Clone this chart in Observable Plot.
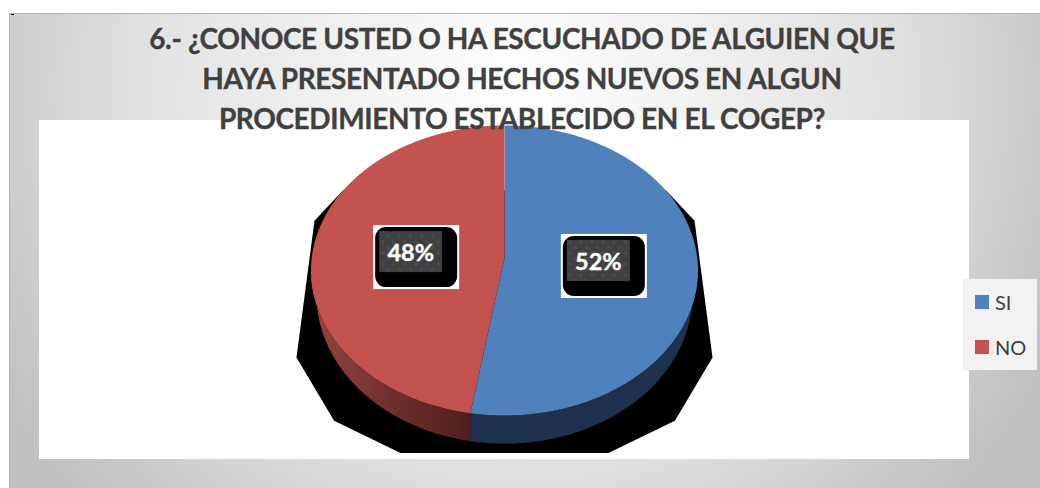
<!DOCTYPE html>
<html lang="es">
<head>
<meta charset="utf-8">
<script src="https://cdn.jsdelivr.net/npm/d3@7"></script>
<script src="https://cdn.jsdelivr.net/npm/@observablehq/plot@0.6"></script>
<style>
  html, body { margin: 0; padding: 0; background: #fff; }
  #page { position: relative; width: 1040px; height: 488px; overflow: hidden; font-family: Lato, sans-serif; }
  #panel { position: absolute; left: 9px; top: 13px; right: 0; bottom: 0; box-sizing: border-box;
           border-top: 1px solid #b4b4b4; border-left: 1px solid #b4b4b4;
           background: radial-gradient(ellipse 600px 600px at 505px 77px, #ffffff 0%, #e3e3e3 60%, #c0c0c0 100%); }
  #tick { position: absolute; left: 11px; top: 14px; width: 3px; height: 1px; background: #000; }
  #plot { position: absolute; left: 39px; top: 120px; width: 930px; height: 339px; background: #fff; }
  #plot svg { display: block; background: #fff; }
  #title { position: absolute; left: 0; width: 1044px; top: 18px; text-align: center; font-weight: 700;
           font-size: 28px; line-height: 40px; letter-spacing: -0.37px; color: #404040; white-space: nowrap;
           -webkit-text-stroke: 0.35px #404040; }
  #legend { position: absolute; left: 963px; top: 279px; width: 74px; height: 91px; background: #f2f2f2;
            font-size: 20px; color: #404040; }
  .item { position: absolute; left: 12px; height: 14px; display: flex; align-items: center; }
  .item i { display: block; width: 14px; height: 14px; margin-right: 6px; }
</style>
</head>
<body>
<div id="page">
  <div id="panel"></div>
  <div id="tick"></div>
  <div id="plot"></div>
  <div id="title"></div>
  <div id="legend"></div>
</div>
<script>
// Data
const titleLines = [
  "6.- ¿CONOCE USTED O HA ESCUCHADO DE ALGUIEN QUE",
  "HAYA PRESENTADO HECHOS NUEVOS EN ALGUN",
  "PROCEDIMIENTO ESTABLECIDO EN EL COGEP?"
];
const categories = ["SI", "NO"];
const shares = [52, 48];
const colors = ["#4f81bd", "#c4524f"];

// Pie geometry, in pie units (1 = radius of the top face; y grows downward)
const tilt = 0.052;            // perspective shift of the slice boundaries, radians
const apexY = -0.086;          // the slices meet above the ellipse's centre
const wall = {rx: 0.972, ry: 1.028, cy: 0.166};
const shadow = {rx: 1.075, cy: 0.6, lower: 0.76, upper: 2.317, floor: 1.262, ceiling: -0.552};
const shadowFacets = [-39, -24, 0, 35, 60, 120, 145, 180, 204, 219];
const labelRadius = 0.486;

const tau = 2 * Math.PI;
const total = d3.sum(shares);
const ends = d3.cumsum(shares).map(v => v / total * tau);
const starts = [0, ...ends.slice(0, -1)];
const warp = t => t + tilt * Math.sin(t / 2) ** 2;
const face = t => ({x: Math.sin(t), y: -Math.cos(t)});
const arc = (a, b, f) => {
  const n = Math.max(2, Math.ceil(Math.abs(b - a) / 0.01));
  return d3.range(n + 1).map(i => f(a + (b - a) * i / n));
};

const slices = shares.map((_, i) => [
  ...arc(warp(starts[i]), i === shares.length - 1 ? tau : warp(ends[i]), face),
  {x: 0, y: apexY}
]);

// The visible side wall: from the right edge round to the left edge
const split = warp(ends[0]);
const wallBelow = t => {
  const p = face(t);
  const x = Math.max(-wall.rx, Math.min(wall.rx, p.x));
  return {x, y: wall.cy + wall.ry * Math.sqrt(1 - (x / wall.rx) ** 2)};
};
const wallBand = (a, b) => [...arc(a, b, face), ...arc(b, a, wallBelow)];
const blueWall = wallBand(Math.PI / 2, split);
const redWall = wallBand(split, Math.PI * 1.5);

// Coarse faceted shadow behind the pie, clipped above and below
const shadowOutline = shadowFacets.map(d => {
  const t = d * Math.PI / 180, s = Math.sin(t);
  const y = shadow.cy + (s > 0 ? shadow.lower : shadow.upper) * s;
  return {
    x: shadow.rx * Math.cos(t),
    y: Math.max(shadow.ceiling, Math.min(shadow.floor, y))
  };
});

const labels = shares.map((v, i) => {
  const p = face((starts[i] + ends[i]) / 2);
  return {text: v + "%", x: labelRadius * p.x, y: apexY + labelRadius * p.y};
});

const outline = (pts, fill) => Plot.line(pts, {x: "x", y: "y", fill, stroke: "none", curve: "linear"});
const box = (w, h, dx, dy, fill, extra = {}) => Plot.rect(labels, {
  x1: "x", x2: "x", y1: "y", y2: "y", dx, dy, fill,
  insetLeft: -w / 2, insetRight: -w / 2, insetTop: -h / 2, insetBottom: -h / 2, ...extra
});

const chart = Plot.plot({
  width: 930, height: 339,
  margin: 0,
  x: {domain: [-1, 1], range: [271.5, 658.5], axis: null},
  y: {domain: [-1, 1], range: [5, 295], axis: null},
  style: {background: "#fff"},
  marks: [
    outline(shadowOutline, "#000"),
    outline(blueWall, "#1f324d"),
    outline(redWall, "url(#redWall)"),
    ...slices.map((pts, i) => outline(pts, colors[i])),
    box(86, 64, 6, 4, "#fff"),
    box(82, 60, 6, 4, "#000", {rx: 11, ry: 11}),
    box(63, 41, 0.5, -1.5, "url(#dots)"),
    Plot.text(labels, {
      x: "x", y: "y", text: "text", fill: "#fff", fontWeight: 700, fontSize: 23.5,
      fontFamily: "Lato, sans-serif", textAnchor: "middle", lineAnchor: "middle",
      stroke: "#fff", strokeWidth: 0.4
    })
  ]
});

const defs = d3.select(chart).insert("defs", ":first-child");
const g = defs.append("linearGradient").attr("id", "redWall");
[[0, "#94453f"], [0.5, "#6f302d"], [1, "#4f1f1d"]].forEach(([o, c]) =>
  g.append("stop").attr("offset", o).attr("stop-color", c));
const pat = defs.append("pattern").attr("id", "dots").attr("width", 11).attr("height", 11)
  .attr("patternUnits", "userSpaceOnUse");
pat.append("rect").attr("width", 11).attr("height", 11).attr("fill", "#404040");
pat.append("circle").attr("cx", 2.5).attr("cy", 2.5).attr("r", 1.6).attr("fill", "#4e4e4e");
pat.append("circle").attr("cx", 8).attr("cy", 8).attr("r", 1.6).attr("fill", "#4e4e4e");

document.getElementById("plot").append(chart);

const title = d3.select("#title");
titleLines.forEach(l => title.append("div").text(l));

const legend = d3.select("#legend");
categories.forEach((c, i) => {
  const it = legend.append("div").attr("class", "item").style("top", (16 + i * 45) + "px");
  it.append("i").style("background", colors[i]);
  it.append("span").text(c);
});
</script>
</body>
</html>
